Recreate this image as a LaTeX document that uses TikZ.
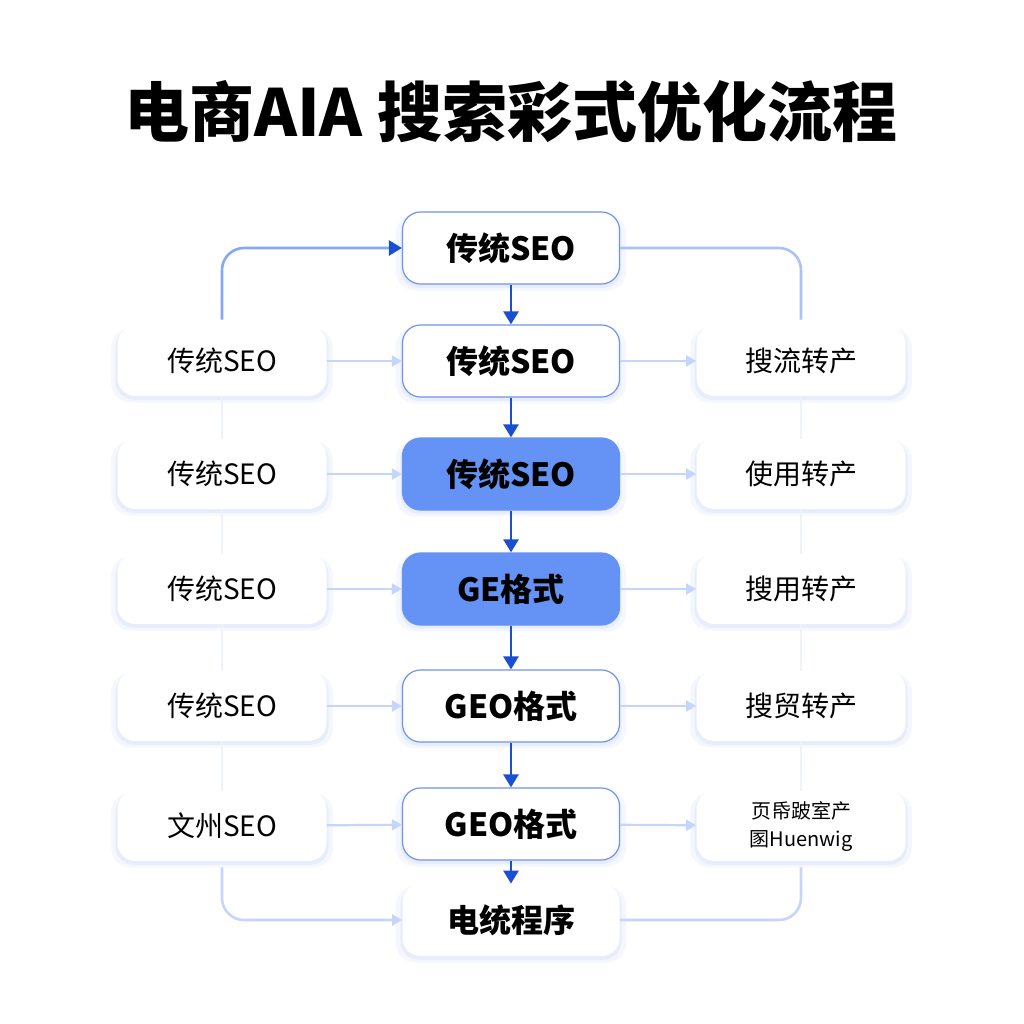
\documentclass[tikz,border=0pt]{standalone}
\usepackage{fontspec}
\setmainfont{Noto Sans CJK SC}
\usetikzlibrary{arrows.meta,shadows}
\definecolor{mainblue}{HTML}{1A4FD4}
\definecolor{edgeblue}{HTML}{7094E8}
\definecolor{fillblue}{HTML}{6592F5}
\definecolor{lightblue}{HTML}{C5D6FA}
\definecolor{loopblue}{HTML}{86A8F2}
\definecolor{shadeblue}{HTML}{DCE5FB}
\definecolor{faintblue}{HTML}{EEF2FB}

\begin{document}
\begin{tikzpicture}[
			x = 0.5pt, y = -0.5pt,
			box/.style = {rectangle, rounded corners=9pt, minimum width=108.5pt, minimum height=36pt, fill=white,
				drop shadow={shadow xshift=0pt, shadow yshift=-2pt, shadow scale=1.06, opacity=0.3, fill=shadeblue},
				drop shadow={shadow xshift=0pt, shadow yshift=-1.5pt, shadow scale=1.02, opacity=0.5, fill=shadeblue}},
			midbox/.style = {box, draw=edgeblue, line width=0.6pt, font=\bfseries\fontsize{16}{18}\selectfont},
			hotbox/.style = {midbox, fill=fillblue, draw=fillblue},
			sidebox/.style = {box, minimum width=104.5pt, minimum height=35pt, font=\fontsize{14}{17}\selectfont},
			flow/.style = {mainblue, line width=1.3pt, -{Triangle[length=6.5pt,width=7.5pt]}},
			feed/.style = {lightblue, line width=1.1pt, -{Triangle[length=5pt,width=5.5pt]}},
			ring/.style = {line width=1.3pt, rounded corners=11pt}
			]

			\useasboundingbox[fill=white] (0,0) rectangle (1024,1024);

			\node (title) at (511,112) {\bfseries\fontsize{32.5}{36}\selectfont 电商AIA 搜索彩式优化流程};

			% middle column
			\node[midbox] (c1) at (511,248) {传统SEO};
			\node[midbox] (c2) at (511,361) {传统SEO};
			\node[hotbox] (c3) at (511,474) {传统SEO};
			\node[hotbox] (c4) at (511,589) {GE格式};
			\node[midbox] (c5) at (511,706) {GEO格式};
			\node[midbox] (c6) at (511,824) {GEO格式};
			\node[box, font=\bfseries\fontsize{16}{18}\selectfont] (c7) at (511,920) {电统程序};

			% side columns
			\foreach \i/\y/\ltext/\rtext in {2/361/传统SEO/搜流转产, 3/474/传统SEO/使用转产, 4/589/传统SEO/搜用转产, 5/706/传统SEO/搜贸转产}{
				\node[sidebox] (l\i) at (222,\y) {\ltext};
				\node[sidebox] (r\i) at (801,\y) {\rtext};
			}
			\node[sidebox] (l6) at (222,826) {文州SEO};
			\node[sidebox, align=center, font=\fontsize{10}{14}\selectfont] (r6) at (801,826) {页帋跛室产\\圂Huenwig};

			\foreach \i [evaluate=\i as \j using int(\i+1)] in {2,...,5}{
				\draw[faintblue, line width=1pt] (l\i) -- (l\j);
				\draw[faintblue, line width=1pt] (r\i) -- (r\j);
			}

			\foreach \i [evaluate=\i as \j using int(\i+1)] in {1,...,6}
				\draw[flow] (c\i) -- (c\j);

			\foreach \i in {2,...,6}{
				\draw[feed] (l\i) -- (c\i);
				\draw[feed] (c\i) -- (r\i);
			}

			\draw[ring, loopblue, -{Triangle[length=6.5pt,width=7.5pt,color=mainblue]}] ([yshift=3pt]l2.north) -- (l2.north |- c1.west) -- (c1.west);
			\draw[ring, loopblue!70] (c1.east) -- (c1.east -| r2.north) -- ([yshift=3pt]r2.north);
			\draw[ring, lightblue, -{Triangle[length=5pt,width=5.5pt]}] ([yshift=-3pt]l6.south) -- (l6.south |- c7.west) -- (c7.west);
			\draw[ring, lightblue] ([yshift=-3pt]r6.south) -- (r6.south |- c7.east) -- (c7.east);

		\end{tikzpicture}
\end{document}
